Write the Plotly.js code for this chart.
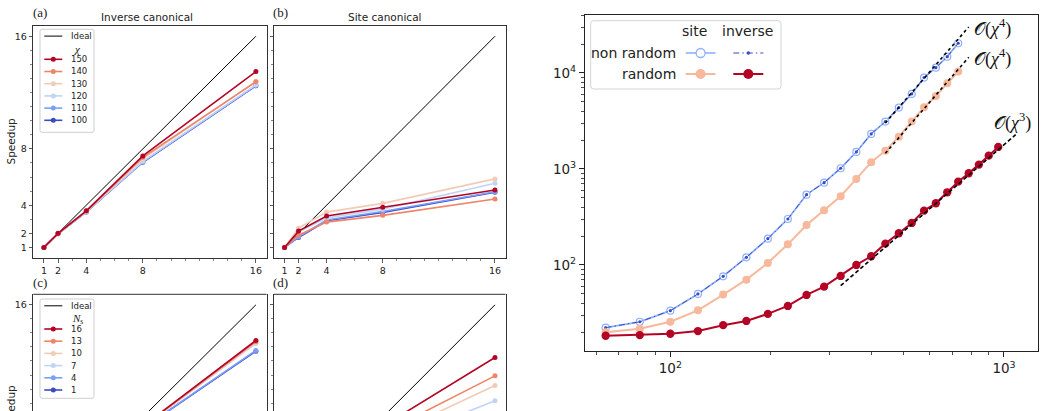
<!DOCTYPE html>
<html>
<head>
<meta charset="utf-8">
<script src="https://cdn.plot.ly/plotly-3.0.1.min.js"></script>
<style>
  html, body { margin: 0; padding: 0; overflow: hidden; background: #fff; }
  #fig { width: 1044px; height: 411px; }
</style>
</head>
<body>
<div id="fig"></div>
<script>
// ---------- data ----------
// number of processes and the ideal (linear) speedup
const procs = [1, 2, 4, 8, 16];
const idealSpeedup = [1, 2, 4, 8, 16];
const procTickText = ['1', '2', '4', '8', '16'];
const procMinorTicks = [3, 5, 6, 7, 9, 10, 11, 12, 13, 14, 15];

// bond dimension chi, lowest first (drawn first)
const chiLabels = ['100', '110', '120', '130', '140', '150'];
// number of sweeps N_s, lowest first
const nsLabels = ['1', '4', '7', '10', '13', '16'];
const sixColors = ['#3b4cc0', '#7b9ff9', '#c0d4f5', '#f2cbb7', '#ee8468', '#b40426'];

// (a) inverse canonical, speedup vs processes for each chi
const invCanonChi = [
  [1, 1.97, 3.52, 7.05, 12.48],
  [1, 1.97, 3.52, 7.08, 12.50],
  [1, 1.97, 3.54, 7.12, 12.55],
  [1, 1.98, 3.57, 7.30, 12.80],
  [1, 1.99, 3.58, 7.40, 12.76],
  [1, 2.00, 3.60, 7.50, 13.49]
];
// (b) site canonical, speedup vs processes for each chi
const siteCanonChi = [
  [1, 1.71, 2.90, 3.49, 4.92],
  [1, 1.75, 2.95, 3.55, 4.96],
  [1, 2.10, 3.10, 3.72, 5.56],
  [1, 2.37, 3.51, 4.13, 5.87],
  [1, 1.87, 2.80, 3.28, 4.44],
  [1, 2.16, 3.23, 3.85, 5.08]
];
// (c) inverse canonical, speedup vs processes for each N_s
const invCanonNs = [
  [1, 1.96, 3.70, 7.20, 12.70],
  [1, 1.96, 3.71, 7.22, 12.75],
  [1, 1.97, 3.73, 7.28, 13.25],
  [1, 1.97, 3.74, 7.30, 13.32],
  [1, 1.98, 3.75, 7.33, 13.38],
  [1, 1.98, 3.76, 7.35, 13.46]
];
// (d) site canonical, speedup vs processes for each N_s
const siteCanonNs = [
  [1, 1.60, 2.50, 4.50, 6.50],
  [1, 1.80, 2.80, 5.20, 7.80],
  [1, 1.90, 3.00, 6.00, 9.16],
  [1, 1.95, 3.20, 6.50, 10.25],
  [1, 2.00, 3.30, 6.87, 10.94],
  [1, 2.10, 3.50, 7.35, 12.25]
];

// runtime vs bond dimension chi
const chiSite = [64, 81, 100, 121, 144, 169, 196, 225, 256, 289, 324, 361, 400, 441, 484, 529, 576, 625, 676, 729];
const chiInverse = [64, 81, 100, 121, 144, 169, 196, 225, 256, 289, 324, 361, 400, 441, 484, 529, 576, 625, 676, 729, 784, 841, 900, 961];
const siteNonRandom = [22.2, 25.6, 33.4, 49.9, 76.2, 120, 188, 301, 540, 720, 1016, 1503, 2317, 3112, 4355, 6036, 8935, 11350, 14780, 20380];
const inverseNonRandom = [22.2, 25.6, 33.4, 49.9, 76.2, 120, 188, 301, 540, 720, 1016, 1503, 2317, 3112, 4355, 6036, 8935, 11350, 14780, 20380];
const siteRandom = [19.9, 21.7, 25.6, 33.7, 49.1, 70.3, 105, 164, 261, 371, 520, 787, 1175, 1550, 2168, 3112, 4397, 5754, 7800, 10330];
const inverseRandom = [18.3, 18.6, 19.2, 20.5, 23.6, 26.1, 30.9, 37.4, 48.7, 59.4, 76.8, 100, 123.2, 166.7, 214, 273.8, 367.8, 439, 571, 737, 902, 1109, 1376, 1694];

// power-law guides: chi range, exponent, value at the first chi
const guideSiteNonRandom = {chi: [441, 784], power: 4, start: 3013};
const guideSiteRandom = {chi: [441, 784], power: 4, start: 1457};
const guideInverseRandom = {chi: [324, 1084], power: 3, start: 60.8};

const logTickVals = [100, 1000, 10000];
const logTickText = ['10<sup>2</sup>', '10<sup>3</sup>', '10<sup>4</sup>'];
const xMinorLog = [60, 70, 80, 90, 200, 300, 400, 500, 600, 700, 800, 900];
const yMinorLog = [20, 30, 40, 50, 60, 70, 80, 90, 200, 300, 400, 500, 600, 700, 800, 900,
  2000, 3000, 4000, 5000, 6000, 7000, 8000, 9000, 20000, 30000, 40000];

// ---------- layout helpers (pixel -> paper) ----------
const W = 1044, H = 411;
const fx = p => p / W;
const fy = p => 1 - p / H;
const xdom = (a, b) => [a / W, b / W];
const ydom = (top, bottom) => [Math.max(0, 1 - bottom / H), 1 - top / H];

const AX = '#333';
const SANS = 'DejaVu Sans';
const SERIF = 'Liberation Serif';
const tickFontSmall = {family: SANS, size: 9.5, color: '#222'};
const tickFontBig = {family: SANS, size: 13.5, color: '#222'};

// small speedup panels: 14.04 px per unit, full range 0.25 .. 16.75
const PX_PER_UNIT = 14.04;

function smallAxis(dom, anchor, showLabels, range) {
  return {
    domain: dom, anchor: anchor, range: range || [0.25, 16.75],
    showgrid: false, zeroline: false,
    showline: true, mirror: true, linecolor: AX, linewidth: 1,
    ticks: 'outside', ticklen: 3.5, tickwidth: 0.8, tickcolor: AX,
    tickmode: 'array', tickvals: procs, ticktext: procTickText,
    showticklabels: showLabels, tickfont: tickFontSmall,
    minor: {tickmode: 'array', tickvals: procMinorTicks, ticks: 'outside', ticklen: 2, tickwidth: 0.6, tickcolor: AX}
  };
}
// lower row: the figure ends before the bottom of these panels
function lowerXAxis(dom, anchor) {
  return {domain: dom, anchor: anchor, range: [0.25, 16.75], visible: false};
}
const lowerTop = 294.3;
const lowerRange = [16.75 - (H - lowerTop) / PX_PER_UNIT, 16.75];

const traces = [];

function addPanel(xa, ya, seriesList) {
  traces.push({x: procs, y: idealSpeedup, xaxis: xa, yaxis: ya, mode: 'lines',
    line: {color: '#000', width: 1}, hoverinfo: 'skip'});
  seriesList.forEach((s, i) => traces.push({
    x: procs, y: s, xaxis: xa, yaxis: ya, mode: 'lines+markers',
    line: {color: sixColors[i], width: 1.6}, marker: {color: sixColors[i], size: 5}
  }));
}

addPanel('x', 'y', invCanonChi);
addPanel('x2', 'y2', siteCanonChi);
addPanel('x3', 'y3', invCanonNs);
addPanel('x4', 'y4', siteCanonNs);

// right panel
const cBlueLight = '#8db0fe', cBlue = '#3b4cc0', cPeach = '#f7b89c', cRed = '#b40426';
traces.push({x: chiSite, y: siteNonRandom, xaxis: 'x5', yaxis: 'y5', mode: 'lines+markers',
  line: {color: cBlueLight, width: 1.8},
  marker: {symbol: 'circle', size: 7, color: '#fff', line: {color: cBlueLight, width: 1.2}}});
traces.push({x: chiSite, y: inverseNonRandom, xaxis: 'x5', yaxis: 'y5', mode: 'lines+markers',
  line: {color: cBlue, width: 1, dash: '6px,3px,1.5px,3px'},
  marker: {size: 3.2, color: cBlue}});
traces.push({x: chiSite, y: siteRandom, xaxis: 'x5', yaxis: 'y5', mode: 'lines+markers',
  line: {color: cPeach, width: 2}, marker: {size: 8, color: cPeach}});
traces.push({x: chiInverse, y: inverseRandom, xaxis: 'x5', yaxis: 'y5', mode: 'lines+markers',
  line: {color: cRed, width: 2}, marker: {size: 8.3, color: cRed}});

function guideTrace(g, dash) {
  const ys = g.chi.map(c => g.start * Math.pow(c / g.chi[0], g.power));
  return {x: g.chi, y: ys, xaxis: 'x5', yaxis: 'y5', mode: 'lines',
    line: {color: '#000', width: 1.6, dash: dash}, hoverinfo: 'skip'};
}
traces.push(guideTrace(guideSiteNonRandom, 'dot'));
traces.push(guideTrace(guideSiteRandom, 'dot'));
traces.push(guideTrace(guideInverseRandom, '4px,2.5px'));

// ---------- legend glyphs (drawn on a pixel-space overlay) ----------
const annotations = [];
const shapes = [];

function ann(text, x, y, opts) {
  annotations.push(Object.assign({
    text: text, x: fx(x), y: fy(y), xref: 'paper', yref: 'paper',
    showarrow: false, xanchor: 'left', yanchor: 'middle',
    font: {family: SANS, size: 8.5, color: '#222'}
  }, opts || {}));
}

function roundedBox(x0, y0, x1, y1, r, color) {
  const X = v => fx(v), Y = v => fy(v);
  // rectangle with softly rounded corners, paper coords
  const path = `M ${X(x0 + r)},${Y(y0)} L ${X(x1 - r)},${Y(y0)} Q ${X(x1)},${Y(y0)} ${X(x1)},${Y(y0 + r)} ` +
    `L ${X(x1)},${Y(y1 - r)} Q ${X(x1)},${Y(y1)} ${X(x1 - r)},${Y(y1)} L ${X(x0 + r)},${Y(y1)} ` +
    `Q ${X(x0)},${Y(y1)} ${X(x0)},${Y(y1 - r)} L ${X(x0)},${Y(y0 + r)} Q ${X(x0)},${Y(y0)} ${X(x0 + r)},${Y(y0)} Z`;
  shapes.push({type: 'path', path: path, xref: 'paper', yref: 'paper',
    line: {color: color, width: 1}, fillcolor: 'rgba(0,0,0,0)', layer: 'above'});
}

function glyph(x0, x1, y, lineStyle, markerStyle) {
  traces.push({x: [x0, x1], y: [y, y], xaxis: 'x6', yaxis: 'y6', mode: 'lines',
    line: lineStyle, hoverinfo: 'skip', cliponaxis: false});
  if (markerStyle) {
    traces.push({x: [(x0 + x1) / 2], y: [y], xaxis: 'x6', yaxis: 'y6', mode: 'markers',
      marker: markerStyle, hoverinfo: 'skip', cliponaxis: false});
  }
}

function smallLegend(top, bottom, titleHtml, labels) {
  roundedBox(40, top, 94, bottom, 2, '#cfcfcf');
  glyph(44.3, 62.3, top + 6.8, {color: '#000', width: 1});
  ann('Ideal', 68.5, top + 6.8);
  ann(titleHtml, 77, top + 19.8, {xanchor: 'center', font: {family: SERIF, size: 11, color: '#222'}});
  for (let k = 0; k < labels.length; k++) {
    const i = labels.length - 1 - k;  // highest first
    const yy = top + 30 + k * 12.2;
    glyph(44.3, 62.3, yy, {color: sixColors[i], width: 1.6}, {color: sixColors[i], size: 5});
    ann(labels[i], 68.5, yy);
  }
}

smallLegend(29.3, 132.3, '<i>χ</i>', chiLabels);
smallLegend(299, 398.3, '<i>N</i><sub>s</sub>', nsLabels);

// top edge of the lower-row frames
[[33.3, 266.5], [274, 505.5]].forEach(([a, b]) => shapes.push({
  type: 'line', xref: 'paper', yref: 'paper', x0: fx(a), x1: fx(b), y0: fy(lowerTop), y1: fy(lowerTop),
  line: {color: AX, width: 1}, layer: 'above'}));

// right panel legend
roundedBox(590.7, 20.7, 781, 89, 3, '#d4d4d4');
const bigText = {family: SANS, size: 14, color: '#222'};
ann('site', 694, 31, {xanchor: 'center', font: bigText});
ann('inverse', 747, 31, {xanchor: 'center', font: bigText});
ann('non random', 677.5, 53, {xanchor: 'right', font: bigText});
ann('random', 677.5, 74, {xanchor: 'right', font: bigText});
glyph(685.7, 715.5, 53, {color: cBlueLight, width: 1.6},
  {symbol: 'circle', size: 9, color: '#fff', line: {color: cBlueLight, width: 1.3}});
glyph(733.3, 763.3, 53, {color: cBlue, width: 1.2, dash: '6px,3px,1.5px,3px'}, {size: 3.5, color: cBlue});
glyph(685.7, 715.5, 74, {color: cPeach, width: 2}, {size: 10, color: cPeach});
glyph(733.3, 763.3, 74, {color: cRed, width: 2}, {size: 10, color: cRed});

// power-law labels
const mathFont = {family: SERIF, size: 18, color: '#111'};
ann('𝒪(<i>χ</i><sup>4</sup>)', 972, 28, {font: mathFont});
ann('𝒪(<i>χ</i><sup>4</sup>)', 972, 58, {font: mathFont});
ann('𝒪(<i>χ</i><sup>3</sup>)', 992, 122, {font: mathFont});

// panel tags, titles and axis labels
const tagFont = {family: SERIF, size: 13, color: '#222'};
ann('(a)', 31, 13, {font: tagFont});
ann('(b)', 271, 13, {font: tagFont});
ann('(c)', 31, 282, {font: tagFont});
ann('(d)', 271, 282, {font: tagFont});
const titleFont = {family: SANS, size: 10.5, color: '#222'};
ann('Inverse canonical', 147, 16.5, {xanchor: 'center', font: titleFont});
ann('Site canonical', 384, 16.5, {xanchor: 'center', font: titleFont});
ann('Speedup', 10.5, 141, {xanchor: 'center', textangle: -90, font: titleFont});
ann('Speedup', 10.5, 408, {xanchor: 'center', textangle: -90, font: titleFont});

// ---------- layout ----------
const rightX = {
  domain: xdom(585, 1037.7), anchor: 'y5', type: 'log',
  range: [Math.log10(55.5), Math.log10(1262)],
  showgrid: false, zeroline: false, showline: true, mirror: true, linecolor: '#222', linewidth: 1.2,
  ticks: 'outside', ticklen: 5, tickwidth: 1, tickcolor: '#222',
  tickmode: 'array', tickvals: logTickVals, ticktext: logTickText, tickfont: tickFontBig,
  minor: {tickmode: 'array', tickvals: xMinorLog, ticks: 'outside', ticklen: 3, tickwidth: 0.8, tickcolor: '#222'}
};
const rightY = {
  domain: ydom(14.7, 351), anchor: 'x5', type: 'log',
  range: [Math.log10(12.7), Math.log10(40400)],
  showgrid: false, zeroline: false, showline: true, mirror: true, linecolor: '#222', linewidth: 1.2,
  ticks: 'outside', ticklen: 5, tickwidth: 1, tickcolor: '#222',
  tickmode: 'array', tickvals: logTickVals, ticktext: logTickText, tickfont: tickFontBig,
  minor: {tickmode: 'array', tickvals: yMinorLog, ticks: 'outside', ticklen: 3, tickwidth: 0.8, tickcolor: '#222'}
};

const layout = {
  width: W, height: H,
  margin: {l: 0, r: 0, t: 0, b: 0},
  paper_bgcolor: '#fff', plot_bgcolor: 'rgba(0,0,0,0)',
  showlegend: false,
  xaxis: smallAxis(xdom(33.3, 266.5), 'y', true),
  yaxis: smallAxis(ydom(25.7, 258), 'x', true),
  xaxis2: smallAxis(xdom(274, 505.5), 'y2', true),
  yaxis2: smallAxis(ydom(25.7, 258), 'x2', false),
  xaxis3: lowerXAxis(xdom(33.3, 266.5), 'y3'),
  yaxis3: smallAxis(ydom(lowerTop, H), 'x3', true, lowerRange),
  xaxis4: lowerXAxis(xdom(274, 505.5), 'y4'),
  yaxis4: smallAxis(ydom(lowerTop, H), 'x4', false, lowerRange),
  xaxis5: rightX,
  yaxis5: rightY,
  xaxis6: {domain: [0, 1], anchor: 'y6', range: [0, W], visible: false, fixedrange: true},
  yaxis6: {domain: [0, 1], anchor: 'x6', range: [H, 0], visible: false, fixedrange: true},
  annotations: annotations,
  shapes: shapes
};

Plotly.newPlot('fig', traces, layout, {staticPlot: true, displayModeBar: false});
</script>
</body>
</html>
